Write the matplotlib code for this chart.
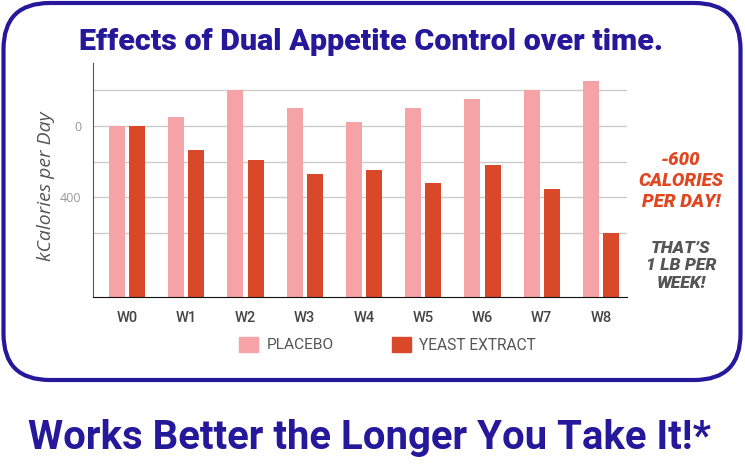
import numpy as np
import matplotlib
matplotlib.use("Agg")
import matplotlib.pyplot as plt
from matplotlib.patches import FancyBboxPatch, Rectangle

weeks = ["W0", "W1", "W2", "W3", "W4", "W5", "W6", "W7", "W8"]
placebo = [0, -50, -204, -100, -22, -100, -150, -204, -255]
yeast = [0, 135, 189, 272, 248, 319, 221, 354, 603]
grid_vals = [-200, 0, 200, 400, 600]
grid_labels = ["", "0", "", "400", ""]

PINK = "#F5A3A6"
RED = "#D94828"
BLUE = "#25189A"

fig = plt.figure(figsize=(7.45, 4.65), dpi=100)
renderer = fig.canvas.get_renderer()


def fit(t, size_px, vertical=False):
    # scale font so the text spans roughly the wanted width (or height if rotated)
    bb = t.get_window_extent(renderer)
    cur = bb.height if vertical else bb.width
    t.set_fontsize(t.get_fontsize() * size_px / cur)


# rounded frame around chart
frame = FancyBboxPatch((3.5 / 745, 1 - 380 / 465), 737 / 745, 377 / 465,
                       boxstyle="round,pad=0,rounding_size=0.062",
                       transform=fig.transFigure, fill=False,
                       edgecolor=BLUE, linewidth=3.0, mutation_aspect=745 / 465)
fig.patches.append(frame)

ax = fig.add_axes([92.7 / 745, 1 - 297 / 465, (627 - 92.7) / 745, (297 - 63) / 465])
base = 960
x = np.arange(len(weeks))
w = 0.27
ax.bar(x - 0.17, np.array(placebo) - base, bottom=base, width=w, color=PINK, zorder=3)
ax.bar(x + 0.17, np.array(yeast) - base, bottom=base, width=w, color=RED, zorder=3)

ax.set_xlim(-0.58, 8.44)
ax.set_ylim(base, -354)
ax.set_yticks(grid_vals)
ax.set_yticklabels(grid_labels, color="#999999", fontsize=9, family="Open Sans")
ax.yaxis.grid(True, color="#cccccc", linewidth=1, zorder=0)
ax.tick_params(axis="y", length=0, pad=8)
ax.set_xticks(x)
ax.set_xticklabels(weeks, color="#444444", fontsize=10.5, family="Roboto",
                   fontweight="medium")
ax.tick_params(axis="x", length=0, pad=10)
for s in ["top", "right"]:
    ax.spines[s].set_visible(False)
ax.spines["left"].set_color("#555555")
ax.spines["bottom"].set_color("#111111")
ax.spines["bottom"].set_zorder(4)

ylab = fig.text(46 / 745, 1 - 186 / 465, "kCalories per Day", fontsize=14,
                style="italic", color="#555555", family="Open Sans",
                rotation=90, ha="center", va="center")

# legend
fig.patches.append(Rectangle((239 / 745, 1 - 352 / 465), 19 / 745, 15 / 465,
                             transform=fig.transFigure, color=PINK))
fig.patches.append(Rectangle((392 / 745, 1 - 352 / 465), 19 / 745, 15 / 465,
                             transform=fig.transFigure, color=RED))
leg1 = fig.text(267 / 745, 1 - 345 / 465, "PLACEBO", fontsize=11, color="#555555",
                va="center", family="Roboto")
leg2 = fig.text(419 / 745, 1 - 345 / 465, "YEAST EXTRACT", fontsize=11, color="#555555",
                va="center", family="Roboto")

# titles
title = fig.text(371 / 745, 1 - 42 / 465, "Effects of Dual Appetite Control over time.",
                 fontsize=17, fontweight=900, color=BLUE, ha="center", va="center",
                 family="Roboto")
bottom = fig.text(369 / 745, 1 - 438 / 465, "Works Better the Longer You Take It!*",
                  fontsize=21, fontweight="bold", color=BLUE, ha="center", va="center",
                  family="Roboto")

# side notes
note1 = fig.text(681 / 745, 1 - 181 / 465, "-600\nCALORIES\nPER DAY!", fontsize=11,
                 fontweight=900, style="italic", color="#E0461F", ha="center",
                 va="center", linespacing=1.2, family="Roboto")
note2 = fig.text(681 / 745, 1 - 266 / 465, "THAT\u2019S\n1 LB PER\nWEEK!", fontsize=11,
                 fontweight=900, style="italic", color="#555555", ha="center",
                 va="center", linespacing=1.2, family="Roboto")

fit(title, 583)
fit(bottom, 683)
fit(ylab, 150, vertical=True)
fit(leg1, 67)
fit(leg2, 117)
fit(note1, 85)
fit(note2, 70)

fig.savefig("out.png", dpi=100)
